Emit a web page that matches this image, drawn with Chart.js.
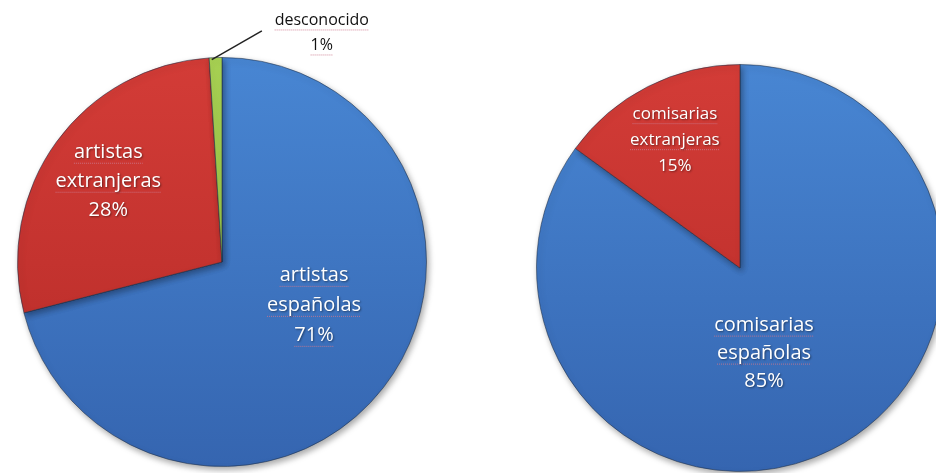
<!DOCTYPE html>
<html>
<head>
<meta charset="utf-8">
<script src="https://cdn.jsdelivr.net/npm/chart.js@4"></script>
<style>
  html, body { margin: 0; padding: 0; background: #fff; overflow: hidden; width: 936px; height: 473px; }
  canvas { position: absolute; top: 0; }
  #artistas { left: 0; }
  #comisarias { left: 468px; }
</style>
</head>
<body>
<canvas id="artistas" width="468" height="473"></canvas>
<canvas id="comisarias" width="520" height="473"></canvas>
<script>
// datos
const artistLabels = ['artistas españolas', 'artistas extranjeras', 'desconocido'];
const artistValues = [71, 28, 1];
const curatorLabels = ['comisarias españolas', 'comisarias extranjeras'];
const curatorValues = [85, 15];

// colores (arriba -> abajo)
const sliceColors = {
  blue: ['#4886d3', '#3565b0'],
  red: ['#d33c37', '#b52a27'],
  green: ['#a8d253', '#86b33a']
};

function gradFill(keys) {
  return (c) => {
    const key = keys[c.dataIndex] || 'blue';
    const area = c.chart.chartArea;
    if (!area) return sliceColors[key][0];
    const g = c.chart.ctx.createLinearGradient(0, area.top, 0, area.bottom);
    g.addColorStop(0, sliceColors[key][0]);
    g.addColorStop(1, sliceColors[key][1]);
    return g;
  };
}

// sombra del pastel
const shadowPlugin = {
  id: 'pieShadow',
  beforeDatasetsDraw(chart) {
    const ctx = chart.ctx;
    ctx.save();
    ctx.shadowColor = 'rgba(0,0,0,0.35)';
    ctx.shadowBlur = 6;
    ctx.shadowOffsetX = 2;
    ctx.shadowOffsetY = 3;
  },
  afterDatasetsDraw(chart) {
    chart.ctx.restore();
  }
};

// etiquetas de texto
const labelPlugin = {
  id: 'sliceLabels',
  afterDatasetsDraw(chart, args, opts) {
    const ctx = chart.ctx;
    const arc = chart.getDatasetMeta(0).data[0];
    const cx = arc.x, cy = arc.y, r = arc.outerRadius;
    const values = chart.data.datasets[0].data;
    chart.data.labels.forEach((lab, i) => {
      const st = opts.items[i];
      const lines = lab.split(' ').concat([values[i] + '%']);
      const x = cx + st.pos[0] * r;
      const y = cy + st.pos[1] * r;
      ctx.save();
      if (st.leader) {
        ctx.strokeStyle = '#222';
        ctx.lineWidth = 1.5;
        ctx.beginPath();
        ctx.moveTo(cx + st.leader[0][0] * r, cy + st.leader[0][1] * r);
        ctx.lineTo(cx + st.leader[1][0] * r, cy + st.leader[1][1] * r);
        ctx.stroke();
      }
      ctx.font = st.font;
      ctx.textAlign = 'center';
      ctx.textBaseline = 'middle';
      const top = y - (lines.length - 1) * st.lh / 2;
      lines.forEach((t, k) => {
        const ly = top + k * st.lh;
        if (st.under[k]) {
          const w = ctx.measureText(t).width;
          ctx.save();
          ctx.strokeStyle = 'rgba(205,120,140,0.85)';
          ctx.lineWidth = 1;
          ctx.setLineDash([1, 1]);
          ctx.beginPath();
          ctx.moveTo(x - w / 2, ly + st.lh * 0.38);
          ctx.lineTo(x + w / 2, ly + st.lh * 0.38);
          ctx.stroke();
          ctx.restore();
        }
        if (st.color === '#fff') {
          ctx.shadowColor = 'rgba(0,0,0,0.45)';
          ctx.shadowBlur = 2;
          ctx.shadowOffsetX = 1;
          ctx.shadowOffsetY = 1;
        }
        ctx.fillStyle = st.color;
        ctx.fillText(t, x, ly);
        ctx.shadowColor = 'transparent';
      });
      ctx.restore();
    });
  }
};

function makePie(id, labels, values, colors, padding, items) {
  return new Chart(document.getElementById(id), {
    type: 'pie',
    data: {
      labels: labels,
      datasets: [{
        data: values,
        backgroundColor: gradFill(colors),
        borderColor: 'rgba(30,45,70,0.55)',
        borderWidth: 1
      }]
    },
    options: {
      responsive: false,
      animation: false,
      layout: { padding: padding },
      plugins: {
        legend: { display: false },
        tooltip: { enabled: false },
        sliceLabels: { items: items }
      }
    },
    plugins: [shadowPlugin, labelPlugin]
  });
}

const whiteFont = '20px "Open Sans", sans-serif';

makePie('artistas', artistLabels, artistValues, ['blue', 'red', 'green'],
  { left: 17, right: 41, top: 57, bottom: 6 },
  [
    { pos: [0.45, 0.21], lh: 30, font: whiteFont, color: '#fff', under: [1, 1, 1] },
    { pos: [-0.556, -0.395], lh: 29, font: whiteFont, color: '#fff', under: [1, 1, 0] },
    { pos: [0.488, -1.12], lh: 25, font: '16px "Open Sans", sans-serif', color: '#111',
      under: [1, 1], leader: [[-0.05, -0.99], [0.195, -1.13]] }
  ]);

makePie('comisarias', curatorLabels, curatorValues, ['blue', 'red'],
  { left: 68, right: 44, top: 64, bottom: 1 },
  [
    { pos: [0.118, 0.42], lh: 28, font: whiteFont, color: '#fff', under: [1, 1, 0] },
    { pos: [-0.32, -0.63], lh: 26, font: '17px "Open Sans", sans-serif', color: '#fff', under: [1, 1, 0] }
  ]);
</script>
</body>
</html>
